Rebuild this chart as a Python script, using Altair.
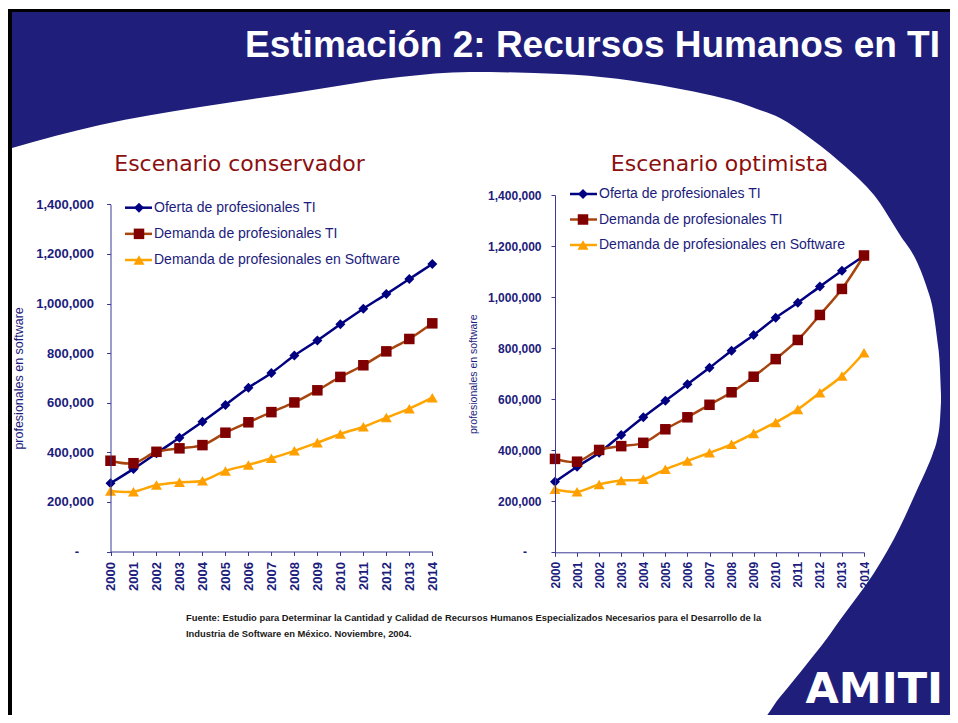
import altair as alt
import pandas as pd

# ---------------- data ----------------
YEARS = list(range(2000, 2015))
SERIES = ["Oferta de profesionales TI", "Demanda de profesionales TI",
          "Demanda de profesionales en Software"]

CONS_OFERTA = [275000, 333000, 396000, 459000, 523000, 591000, 660000, 720000,
               790000, 851000, 916000, 979000, 1038000, 1099000, 1159000]
CONS_DEM_TI = [366000, 356000, 402000, 416000, 429000, 479000, 521000, 562000,
               601000, 650000, 704000, 751000, 807000, 857000, 920000]
CONS_DEM_SW = [244000, 241000, 268000, 279000, 285000, 325000, 349000, 376000,
               406000, 439000, 474000, 503000, 540000, 576000, 620000]

OPT_OFERTA = [276000, 335000, 390000, 460000, 529000, 594000, 658000, 723000,
              790000, 851000, 919000, 978000, 1041000, 1103000, 1161000]
OPT_DEM_TI = [366000, 355000, 401000, 416000, 429000, 482000, 529000, 578000,
              627000, 688000, 757000, 832000, 930000, 1032000, 1163000]
OPT_DEM_SW = [247000, 237000, 266000, 281000, 286000, 325000, 358000, 390000,
              423000, 466000, 509000, 560000, 625000, 691000, 782000]

Y_TICKS = [0, 200000, 400000, 600000, 800000, 1000000, 1200000, 1400000]
ZERO_LABEL = ["-"]

MAIN_TITLE = ["Estimación 2: Recursos Humanos en TI"]
TITLE_LEFT = ["Escenario conservador"]
TITLE_RIGHT = ["Escenario optimista"]
Y_TITLE = "profesionales en software"
FOOTER = ["Fuente: Estudio para Determinar la Cantidad y Calidad de Recursos Humanos Especializados Necesarios para el Desarrollo de la",
          "Industria de Software en México. Noviembre, 2004."]
LOGO = ["AMITI"]

# decorative slide background (page pixel coordinates)
BG_X = [12, 100, 200, 300, 400, 470, 560, 675, 749, 757, 780, 810, 822, 840,
        860, 874, 900, 917, 927, 933, 937, 940, 941]
BG_TOP = [148, 125, 107, 92, 77, 72, 74, 88, 106, 109, 118, 138, 147, 162,
          180, 195, 235, 262, 288, 310, 338, 370, 395]
BG_BOT = [723, 723, 723, 723, 723, 723, 723, 723, 723, 723, 697, 660, 645, 620,
          593, 573, 527, 490, 468, 453, 440, 420, 402]

# ---------------- styles ----------------
W, H = 942, 707
NAVY_BG = "#1f1f7b"
NAVY_TXT = "#1c1c7c"
AXIS_COL = "#3a3a95"
TITLE_RED = "#8c0f0f"
LINE_COLORS = ["#000080", "#a8440e", "#ffa500"]
MARKER_COLORS = ["#000080", "#800000", "#ffa000"]
SHAPES = ["diamond", "square", "triangle-up"]
SIZES = [100, 121, 170]


def long_df(lists):
    return pd.DataFrame({
        "year": YEARS * 3,
        "value": lists[0] + lists[1] + lists[2],
        "series": [s for s in SERIES for _ in YEARS],
    })


def panel(lists, xr, yr, lab_size, tit_size, tit_pad, ylab_pad, xlab_pad, zero_x):
    df = long_df(lists)
    x = alt.X("year:Q", title=None,
              scale=alt.Scale(domain=[2000, 2014], range=xr, nice=False, zero=False),
              axis=alt.Axis(orient="bottom", offset=yr[0] - H, values=YEARS, format="d",
                            labelAngle=-90, labelFont="Liberation Sans", labelFontWeight="bold",
                            labelFontSize=lab_size, labelColor=NAVY_TXT, labelPadding=xlab_pad,
                            labelOverlap=False, tickSize=4, tickColor=AXIS_COL,
                            domainColor=AXIS_COL, grid=False, zindex=1))
    y = alt.Y("value:Q", title=Y_TITLE,
              scale=alt.Scale(domain=[0, 1400000], range=yr, nice=False),
              axis=alt.Axis(orient="left", offset=-xr[0], values=Y_TICKS,
                            labelExpr="datum.value == 0 ? '' : format(datum.value, ',')",
                            labelFont="Liberation Sans", labelFontWeight="bold",
                            labelFontSize=lab_size, labelColor=NAVY_TXT, labelPadding=ylab_pad,
                            labelOverlap=False, tickSize=4, tickColor=AXIS_COL,
                            domainColor=AXIS_COL, grid=False, zindex=1,
                            titleFont="Liberation Sans", titleFontWeight="normal",
                            titleFontSize=tit_size, titleColor=NAVY_TXT, titlePadding=tit_pad))
    base = alt.Chart(df)
    lines = base.mark_line(strokeWidth=2.5, interpolate="catmull-rom").encode(
        x=x, y=y,
        stroke=alt.Stroke("series:N", scale=alt.Scale(domain=SERIES, range=LINE_COLORS), legend=None),
    )
    pts = base.mark_point(filled=True, opacity=1).encode(
        x=x, y=y,
        fill=alt.Fill("series:N", scale=alt.Scale(domain=SERIES, range=MARKER_COLORS), legend=None),
        shape=alt.Shape("series:N", scale=alt.Scale(domain=SERIES, range=SHAPES), legend=None),
        size=alt.Size("series:N", scale=alt.Scale(domain=SERIES, range=SIZES), legend=None),
    )
    # the "-" label for the zero tick (accounting style, set apart from the axis)
    zero = alt.Chart(pd.DataFrame({"value": [Y_TICKS[0]], "lab": ZERO_LABEL})).mark_text(
        align="center", baseline="middle", font="Liberation Sans", fontWeight="bold",
        fontSize=lab_size, color=NAVY_TXT).encode(
        x=alt.value(zero_x), y=alt.Y("value:Q"), text="lab:N")
    return alt.layer(lines, pts, zero)


def legend(rule_x, marker_x, text_x, y_range):
    df = pd.DataFrame({"series": SERIES})
    y = alt.Y("series:N", axis=None,
              scale=alt.Scale(type="point", domain=SERIES, range=y_range, padding=0))
    base = alt.Chart(df)
    rule = base.mark_rule(strokeWidth=2.5).encode(
        x=alt.value(rule_x[0]), x2=alt.value(rule_x[1]), y=y,
        stroke=alt.Stroke("series:N", scale=alt.Scale(domain=SERIES, range=LINE_COLORS), legend=None),
    )
    pts = base.mark_point(filled=True, opacity=1).encode(
        x=alt.value(marker_x), y=y,
        fill=alt.Fill("series:N", scale=alt.Scale(domain=SERIES, range=MARKER_COLORS), legend=None),
        shape=alt.Shape("series:N", scale=alt.Scale(domain=SERIES, range=SHAPES), legend=None),
        size=alt.Size("series:N", scale=alt.Scale(domain=SERIES, range=SIZES), legend=None),
    )
    txt = base.mark_text(align="left", baseline="middle", font="Liberation Sans",
                         fontSize=14, color=NAVY_TXT).encode(
        x=alt.value(text_x), y=y, text="series:N")
    return alt.layer(rule, pts, txt)


# ---------------- background ----------------
one = pd.DataFrame({"a": [0]})
frame = alt.Chart(one).mark_rect(color="black").encode(
    x=alt.value(0), x2=alt.value(W), y=alt.value(1), y2=alt.value(H))
navy = alt.Chart(one).mark_rect(color=NAVY_BG).encode(
    x=alt.value(4), x2=alt.value(W), y=alt.value(4), y2=alt.value(H))
bg_df = pd.DataFrame({"x": BG_X, "top": BG_TOP, "bot": BG_BOT})
white = alt.Chart(bg_df).mark_area(color="white", interpolate="monotone", opacity=1).encode(
    x=alt.X("x:Q", axis=None, scale=alt.Scale(domain=[8, 8 + W], range=[0, W], nice=False, zero=False)),
    y=alt.Y("top:Q", axis=None, scale=alt.Scale(domain=[8, 8 + H], range=[0, H], nice=False, zero=False)),
    y2="bot:Q",
)
background = alt.layer(frame, navy, white)

# ---------------- texts ----------------
main_title = alt.Chart(pd.DataFrame({"t": MAIN_TITLE})).mark_text(
    align="right", baseline="alphabetic", font="Liberation Sans", fontWeight="bold",
    fontSize=37, color="white").encode(x=alt.value(932), y=alt.value(49), text="t:N")
t_left = alt.Chart(pd.DataFrame({"t": TITLE_LEFT})).mark_text(
    align="center", baseline="alphabetic", font="DejaVu Sans", fontSize=22,
    color=TITLE_RED).encode(x=alt.value(231.5), y=alt.value(163), text="t:N")
t_right = alt.Chart(pd.DataFrame({"t": TITLE_RIGHT})).mark_text(
    align="center", baseline="alphabetic", font="DejaVu Sans", fontSize=22,
    color=TITLE_RED).encode(x=alt.value(711.5), y=alt.value(163), text="t:N")
footer = alt.Chart(pd.DataFrame({"t": ["\n".join(FOOTER)]})).mark_text(
    align="left", baseline="alphabetic", font="Liberation Sans", fontWeight="bold",
    fontSize=9.4, lineHeight=16, lineBreak="\n", color="#1a1a1a").encode(
    x=alt.value(178), y=alt.value(613), text="t:N")
logo = alt.Chart(pd.DataFrame({"t": LOGO})).mark_text(
    align="right", baseline="alphabetic", font="DejaVu Sans", fontWeight="bold",
    fontSize=43, color="white").encode(x=alt.value(935), y=alt.value(695), text="t:N")

# ---------------- panels ----------------
left = panel([CONS_OFERTA, CONS_DEM_TI, CONS_DEM_SW], [102.5, 424.3], [543.5, 196.3],
             13, 12.5, 10, 13, 6, 69)
right = panel([OPT_OFERTA, OPT_DEM_TI, OPT_DEM_SW], [547, 856], [544.3, 187],
              12, 10.5, 9, 10, 5, 517)
leg_left = legend([117, 144], 131, 146, [199.7, 252])
leg_right = legend([562, 589], 575, 591, [186, 237])

chart = alt.layer(
    background, left, right, leg_left, leg_right,
    main_title, t_left, t_right, footer, logo,
).resolve_scale(
    x="independent", y="independent", stroke="independent",
    fill="independent", shape="independent", size="independent",
).properties(
    width=W, height=H, padding=0, autosize=alt.AutoSizeParams(type="none"),
).configure_view(strokeWidth=0)

chart.save("out.html", embed_options={"renderer": "svg", "actions": False})
